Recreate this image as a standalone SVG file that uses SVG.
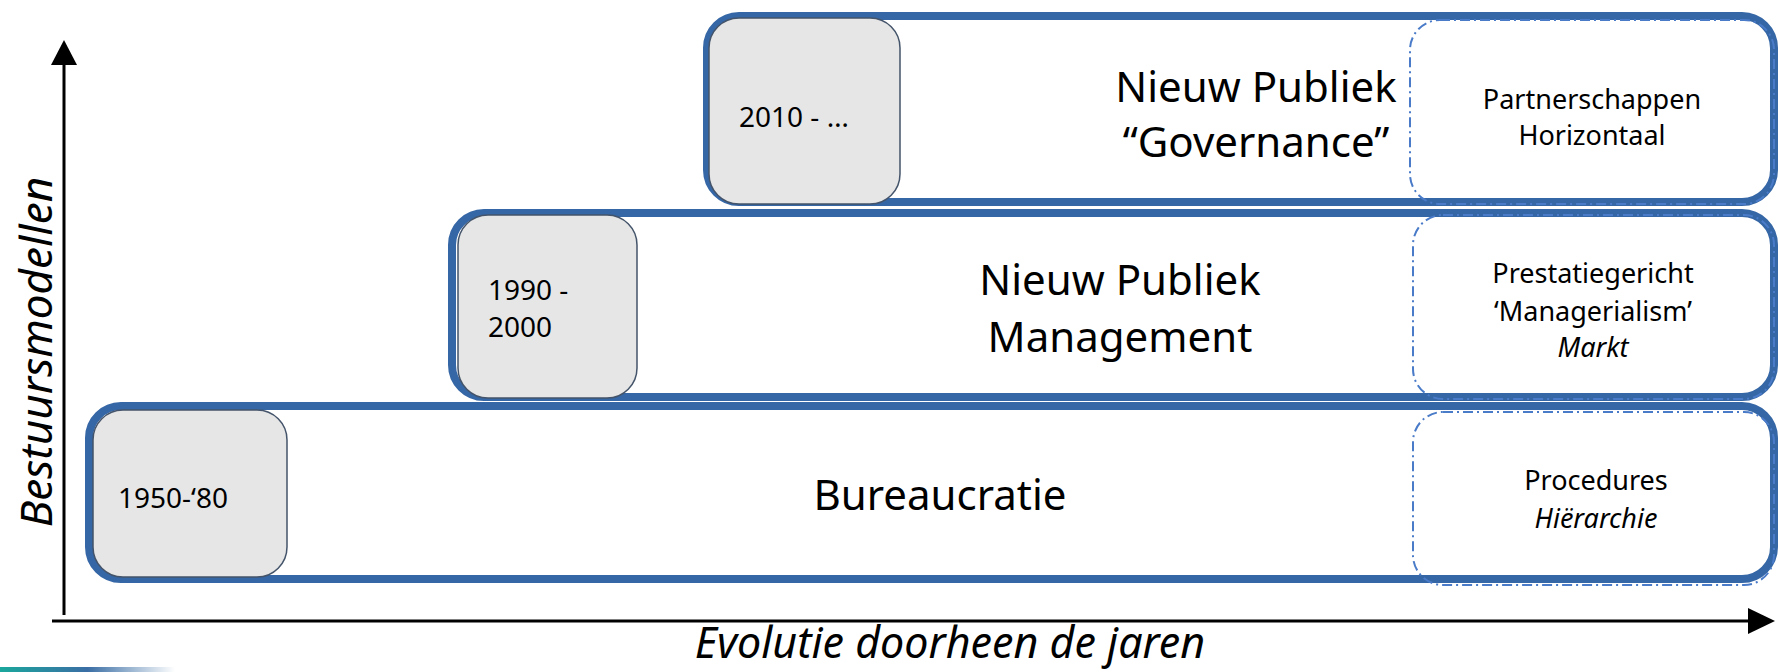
<svg xmlns="http://www.w3.org/2000/svg" width="1778" height="672" viewBox="0 0 1778 672">
<defs>
<style>
.band{fill:#fff;stroke:#3566a5;stroke-width:8}
.date{fill:#e6e6e6;stroke:#44546a;stroke-width:1.5}
.dash{fill:none;stroke:#4a7bc8;stroke-width:2;stroke-dasharray:10 4 2 4}
text{font-family:"Noto Sans","Open Sans",sans-serif;fill:#000}
.t1{font-size:42px;text-anchor:middle}
.t2{font-size:27px;text-anchor:middle}
.d{font-size:28px}
.ax{font-size:44px;font-style:italic;text-anchor:middle}
.axis{stroke:#000;stroke-width:3;fill:none}
</style>
<linearGradient id="teal" x1="0" y1="0" x2="1" y2="0">
<stop offset="0" stop-color="#1aa79c"/>
<stop offset="0.5" stop-color="#3a6ea5"/>
<stop offset="1" stop-color="#ffffff"/>
</linearGradient>
</defs>
<rect x="0" y="667" width="175" height="5" fill="url(#teal)"/>
<g id="axes">
<line class="axis" x1="64" y1="60" x2="64" y2="615"/>
<polygon points="64,40 51,65 77,65" fill="#000"/>
<line class="axis" x1="52" y1="621" x2="1752" y2="621"/>
<polygon points="1775,621 1748,608 1748,634" fill="#000"/>
<text class="ax" transform="translate(52,352) rotate(-90)">Bestuursmodellen</text>
<text class="ax" x="950" y="658" style="font-size:43px">Evolutie doorheen de jaren</text>
</g>
<g id="band-governance">
<rect class="band" x="707" y="16" width="1067" height="186" rx="32"/>
<rect class="date" x="709" y="18" width="191" height="186" rx="30"/>
<rect class="dash" x="1410" y="20" width="364" height="184" rx="30"/>
<text class="d" x="739" y="127">2010 - …</text>
<text class="t1" x="1256" y="102">Nieuw Publiek</text>
<text class="t1" x="1256" y="157">“Governance”</text>
<text class="t2" x="1592" y="109">Partnerschappen</text>
<text class="t2" x="1592" y="145">Horizontaal</text>
</g>
<g id="band-npm">
<rect class="band" x="452" y="213" width="1322" height="184" rx="32"/>
<rect class="date" x="458" y="215" width="179" height="183" rx="30"/>
<rect class="dash" x="1413" y="215" width="361" height="184" rx="30"/>
<text class="d" x="488" y="300">1990 -</text>
<text class="d" x="488" y="337">2000</text>
<text class="t1" x="1120" y="295">Nieuw Publiek</text>
<text class="t1" x="1120" y="352">Management</text>
<text class="t2" x="1593" y="283">Prestatiegericht</text>
<text class="t2" x="1593" y="321">‘Managerialism’</text>
<text class="t2" x="1593" y="357" font-style="italic">Markt</text>
</g>
<g id="band-bureaucratie">
<rect class="band" x="89" y="406" width="1685" height="173" rx="32"/>
<rect class="date" x="93" y="410" width="194" height="167" rx="30"/>
<rect class="dash" x="1413" y="412" width="361" height="173" rx="30"/>
<text class="d" x="118" y="508">1950-‘80</text>
<text class="t1" x="940" y="510">Bureaucratie</text>
<text class="t2" x="1596" y="490">Procedures</text>
<text class="t2" x="1596" y="528" font-style="italic">Hiërarchie</text>
</g>
</svg>
